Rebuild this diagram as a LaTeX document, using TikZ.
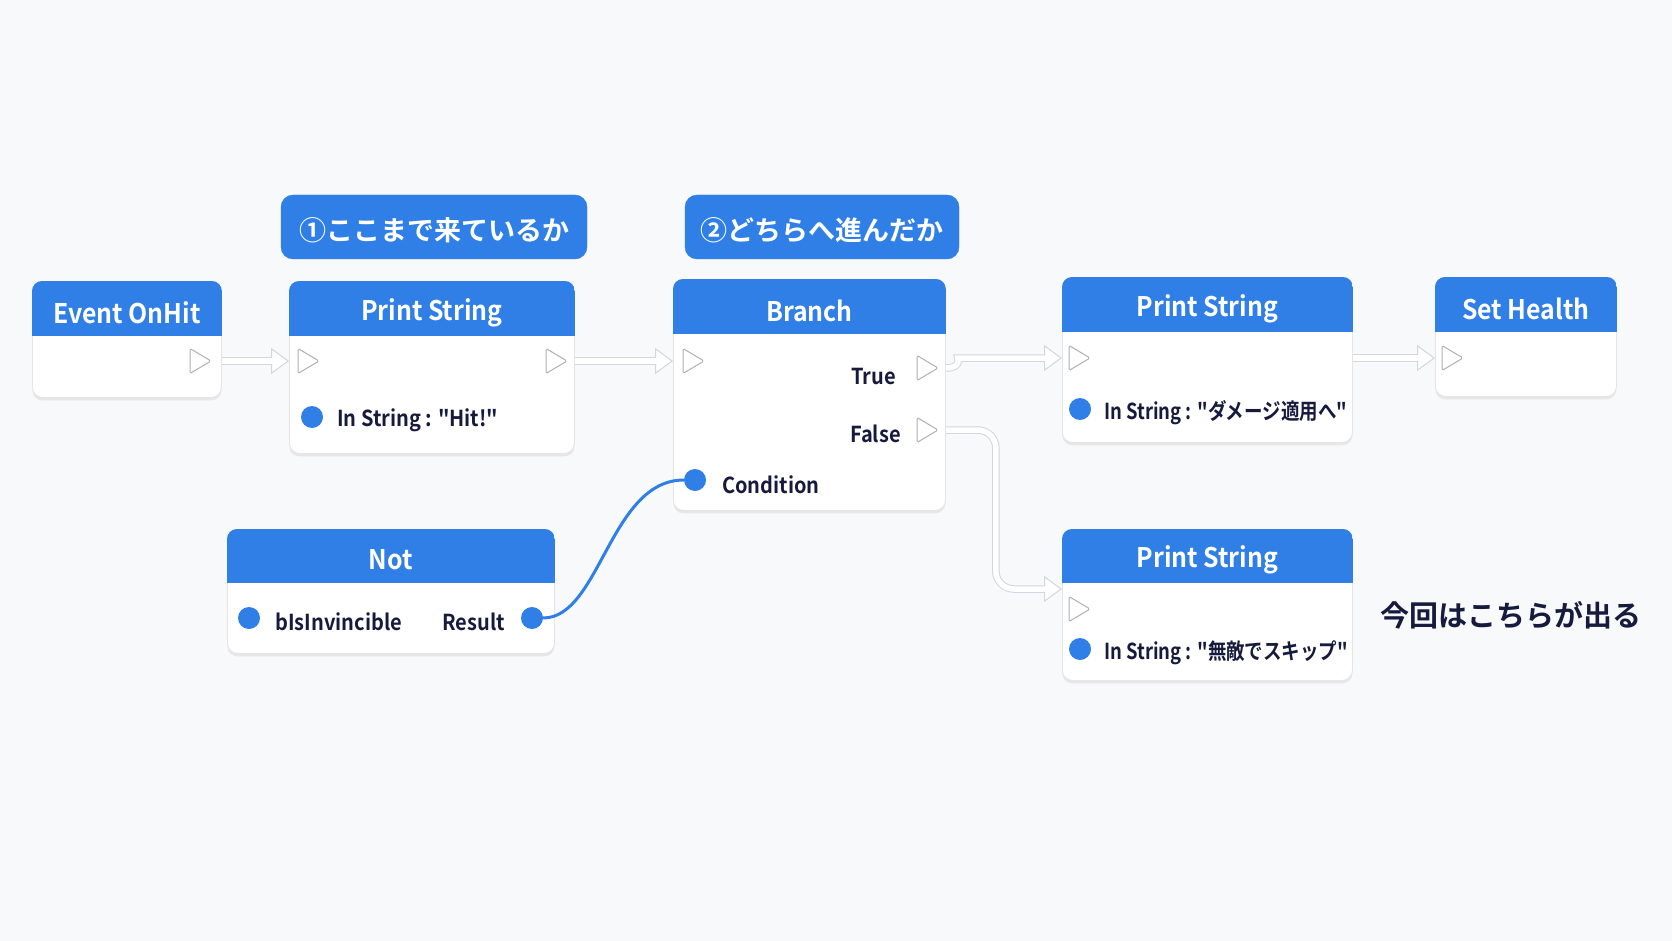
\documentclass[tikz,border=0pt]{standalone}
\usepackage{fontspec}
\newfontfamily\jpf{Noto Sans CJK JP Bold}
\newfontfamily\hdf{Noto Sans CJK JP Bold}[FakeStretch=0.92]
\newfontfamily\bdf{Noto Sans CJK JP Bold}[FakeStretch=0.91]
\newfontfamily\cdf{Noto Sans CJK JP Bold}[FakeStretch=0.84]
\usetikzlibrary{arrows.meta,shadows,calc}
\definecolor{hblue}{HTML}{2F7FE6}
\definecolor{navy}{HTML}{161B3D}
\definecolor{bg}{HTML}{F8F9FB}
\definecolor{pingray}{HTML}{ADB0B5}
\definecolor{wiregray}{HTML}{D3D6DA}
\tikzset{
 box/.style={draw=black!10, line width=0.8pt, fill=white, rounded corners=10pt, inner sep=0pt, anchor=north west, drop shadow={opacity=0.14, shadow xshift=0pt, shadow yshift=-3pt}},
 htext/.style={text=white, font=\hdf\fontsize{27}{30}\selectfont, inner sep=0pt},
 btext/.style={text=navy, font=\bdf\fontsize{22}{26}\selectfont, inner sep=0pt},
 ctext/.style={text=navy, font=\cdf\fontsize{22}{26}\selectfont, inner sep=0pt},
 lbl/.style={fill=hblue, draw=hblue, rounded corners=12pt, inner sep=0pt},
 ltext/.style={text=white, font=\jpf\fontsize{27}{30}\selectfont, inner sep=0pt},
 dot/.style={circle, fill=hblue, minimum size=22pt, inner sep=0pt},
 pinshape/.style={draw=pingray, fill=white, line width=1pt, rounded corners=1.5pt},
 wireo/.style={line width=7.5pt, draw=wiregray, rounded corners=18pt, -{Triangle[length=18pt,width=26pt,fill=white,line width=1pt]}},
 wirei/.style={line width=5.5pt, draw=white, rounded corners=18pt, shorten >=15pt},
 link/.style={draw=hblue, line width=3pt},
 note/.style={text=navy, font=\jpf\fontsize{29}{32}\selectfont, inner sep=0pt},
}
\newcommand\bpbox[7]{%
 \node[box, minimum width=#4pt, minimum height=#5pt] (#1) at (#2,#3) {};
 \begin{scope}\clip[rounded corners=10pt] (#1.north west) rectangle (#1.south east);
 \fill[hblue] (#1.north west) rectangle ([yshift=-#6pt]#1.north east);\end{scope}
 \node[htext] (#1t) at ([yshift=-#6pt/2-4pt]#1.north) {#7};
}
\newcommand\pin[3]{\coordinate (#1) at (#2,#3); \draw[pinshape] (#1) ++(-10,-12.5) -- ++(0,25) -- ++(21,-12.5) -- cycle;}
\newcommand\wire[1]{\draw[wireo] #1; \draw[wirei] #1;}
\begin{document}
\begin{tikzpicture}[x=1pt,y=-1pt]
\fill[bg] (0,0) rectangle (1672,941);
\useasboundingbox (0,0) rectangle (1672,941);

\node[lbl, minimum width=306pt, minimum height=64pt] (l1) at (434,227) {};
\node[ltext] (l1t) at (434,230) {①ここまで来ているか};
\node[lbl, minimum width=274pt, minimum height=64pt] (l2) at (822,227) {};
\node[ltext] (l2t) at (822,230) {②どちらへ進んだか};

\bpbox{ev}{32}{281}{189}{116}{55}{Event OnHit}
\bpbox{ps1}{289}{281}{285}{172}{55}{Print String}
\bpbox{br}{673}{279}{272}{231}{55}{Branch}
\bpbox{ps2}{1062}{277}{290}{165}{55}{Print String}
\bpbox{sh}{1435}{277}{181}{119}{55}{Set Health}
\bpbox{ps3}{1062}{529}{290}{151}{54}{Print String}
\bpbox{nt}{227}{529}{327}{124}{54}{Not}

\pin{evout}{200}{361}
\pin{ps1in}{308}{361}
\pin{ps1out}{556}{361}
\pin{brin}{693}{361}
\pin{brtrue}{927}{368}
\pin{brfalse}{927}{430}
\pin{ps2in}{1079}{358}
\pin{shin}{1452}{358}
\pin{ps3in}{1079}{609}

\wire{(ev.east |- evout) -- (ps1.west |- ps1in)}
\wire{(ps1.east |- ps1out) -- (br.west |- brin)}
\wire{(br.east |- brtrue) .. controls ($(br.east |- brtrue)+(16,0)$) and ($(br.east |- ps2in)+(12,0)$) .. ($(br.east |- ps2in)+(30,0)$) -- (ps2.west |- ps2in)}
\wire{(br.east |- brfalse) -- ($(br.east |- brfalse)+(50,0)$) -- ($(br.east |- ps3.north west)+(50,60)$) -- ($(ps3.north west)+(0,60)$)}
\wire{(ps2.east |- ps2in) -- (sh.west |- shin)}

\node[dot] (ps1d) at (312,417) {};
\node[btext, anchor=west] (ps1s) at (337,420) {In String : "Hit!"};
\node[btext, anchor=east] (tt) at (896,377) {True};
\node[btext, anchor=east] (ft) at (901,434) {False};
\node[dot] (cd) at (695,480) {};
\node[btext, anchor=west] (ct) at (722,485) {Condition};
\node[dot] (nd1) at (249,618) {};
\node[btext, anchor=west] (nt1) at (275,622) {bIsInvincible};
\node[btext, anchor=east] (nt2) at (505,622) {Result};
\node[dot] (nd2) at (532,618) {};
\node[dot] (ps2d) at (1080,409) {};
\node[ctext, anchor=west] (ps2s) at (1104,413) {In String : "ダメージ適用へ"};
\node[dot] (ps3d) at (1080,649) {};
\node[ctext, anchor=west] (ps3s) at (1104,653) {In String : "無敵でスキップ"};
\node[note] (nt3) at (1511,615) {今回はこちらが出る};

\draw[link] (nd2.east) .. controls ($(nd2)+(68,0)$) and ($(cd)+(-85,0)$) .. (cd.west);
\end{tikzpicture}
\end{document}
